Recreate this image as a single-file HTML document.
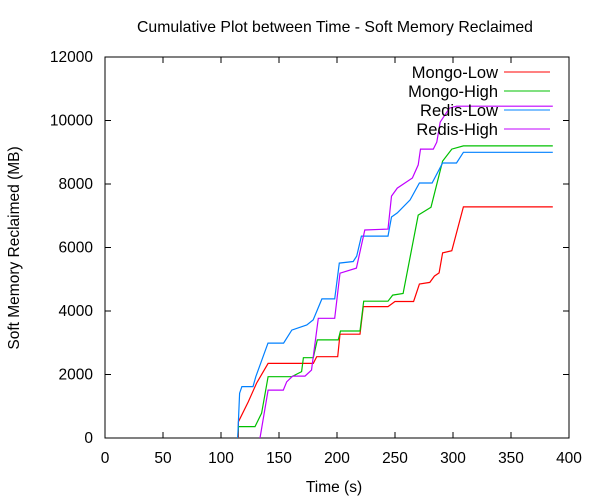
<!DOCTYPE html>
<html><head><meta charset="utf-8">
<style>
html,body{margin:0;padding:0;background:#fff;}
svg{display:block;font-family:"Liberation Sans",sans-serif;}
</style></head>
<body>
<svg id="chart" width="600" height="500" viewBox="0 0 600 500" xmlns="http://www.w3.org/2000/svg">
<text x="335" y="32" font-size="15.8" text-anchor="middle">Cumulative Plot between Time - Soft Memory Reclaimed</text>
<text x="334" y="492" font-size="15.5" text-anchor="middle">Time (s)</text>
<text transform="translate(19,248) rotate(-90)" font-size="15.5" text-anchor="middle">Soft Memory Reclaimed (MB)</text>
<g id="axes"></g>
<g id="series"></g>
<g id="legend"></g>
</svg>
<script>
const xTicks=[0,50,100,150,200,250,300,350,400];
const yTicks=[0,2000,4000,6000,8000,10000,12000];
const seriesNames=["Mongo-Low","Mongo-High","Redis-Low","Redis-High"];
const seriesColors=["#ff0000","#00c000","#0080ff","#c000ff"];
const mongoLowT=[115,115,123.5,130.7,140.6,179.6,182.5,200.6,202.6,219.8,222.7,244,250,266,271,280,284,288,291,299,309,386];
const mongoLowV=[0,510,1140,1730,2350,2350,2560,2560,3270,3270,4140,4140,4300,4300,4850,4900,5100,5200,5830,5900,7280,7280];
const mongoHighT=[114.5,115,129.3,135,140.6,161,169.5,171,179.6,183,201,203,219.8,223,244,248,257,270,281,291,299,309,386];
const mongoHighV=[0,360,360,780,1930,1930,2090,2530,2530,3090,3090,3370,3370,4310,4310,4500,4550,7020,7270,8720,9100,9200,9200];
const redisLowT=[114.4,116,118,127.6,130,140.5,154,161,174,179.5,187,198,202,214,217,221,244,247,252,263,271,282,291,303,309,386];
const redisLowV=[0,1410,1620,1620,1930,2990,2990,3400,3560,3720,4380,4380,5510,5560,5730,6360,6360,6960,7090,7500,8030,8030,8660,8660,9000,9000];
const redisHighT=[133.6,140.6,153.7,156.6,161.8,172.4,178,183.9,198,202.6,216.7,224,244,247,252,265,270,272,283,286,289,297,303,386];
const redisHighV=[0,1510,1510,1770,1950,1950,2140,3770,3770,5190,5350,6550,6580,7620,7870,8190,8600,9100,9100,9320,9950,10390,10450,10450];
const allT=[mongoLowT,mongoHighT,redisLowT,redisHighT];
const allV=[mongoLowV,mongoHighV,redisLowV,redisHighV];

const L=105,R=569,T=57,B=438;
const xs=t=>L+(t-0)/(400-0)*(R-L);
const ys=v=>B-(v-0)/(12000-0)*(B-T);
const NS="http://www.w3.org/2000/svg";
function mk(tag,attrs,parent){const e=document.createElementNS(NS,tag);for(const k in attrs)e.setAttribute(k,attrs[k]);parent.appendChild(e);return e;}
const axes=document.getElementById('axes');
const frame=mk('rect',{x:L,y:T,width:R-L,height:B-T,fill:'none',stroke:'#000','stroke-width':1},axes);


xTicks.forEach(t=>{
  const x=xs(t);
  const tk=mk('path',{d:`M${x},${B}v-6M${x},${T}v6`,stroke:'#000'},axes);
  
  
  const lb=mk('text',{x:x,y:B+25,'font-size':15.5,'text-anchor':'middle'},axes);
  lb.textContent=t;
  
  
});
yTicks.forEach(v=>{
  const y=ys(v);
  const tk=mk('path',{d:`M${L},${y}h6M${R},${y}h-6`,stroke:'#000'},axes);
  
  
  const lb=mk('text',{x:L-12,y:y+5,'font-size':15.5,'text-anchor':'end'},axes);
  lb.textContent=v;
  
  
});
const sg=document.getElementById('series');
allT.forEach((ts,i)=>{
  const pts=ts.map((t,j)=>xs(t).toFixed(1)+','+ys(allV[i][j]).toFixed(1)).join(' ');
  const pl=mk('polyline',{points:pts,fill:'none',stroke:seriesColors[i],'stroke-width':1.2},sg);
  
  
});
const lg=document.getElementById('legend');
seriesNames.forEach((n,i)=>{
  const y=72+i*19;
  const tx=mk('text',{x:498,y:y+6,'font-size':16.5,'text-anchor':'end'},lg);
  tx.textContent=n;
  
  
  const ln=mk('line',{x1:504,x2:550,y1:y,y2:y,stroke:seriesColors[i],'stroke-width':1},lg);
  
  
});
</script>
</body></html>
